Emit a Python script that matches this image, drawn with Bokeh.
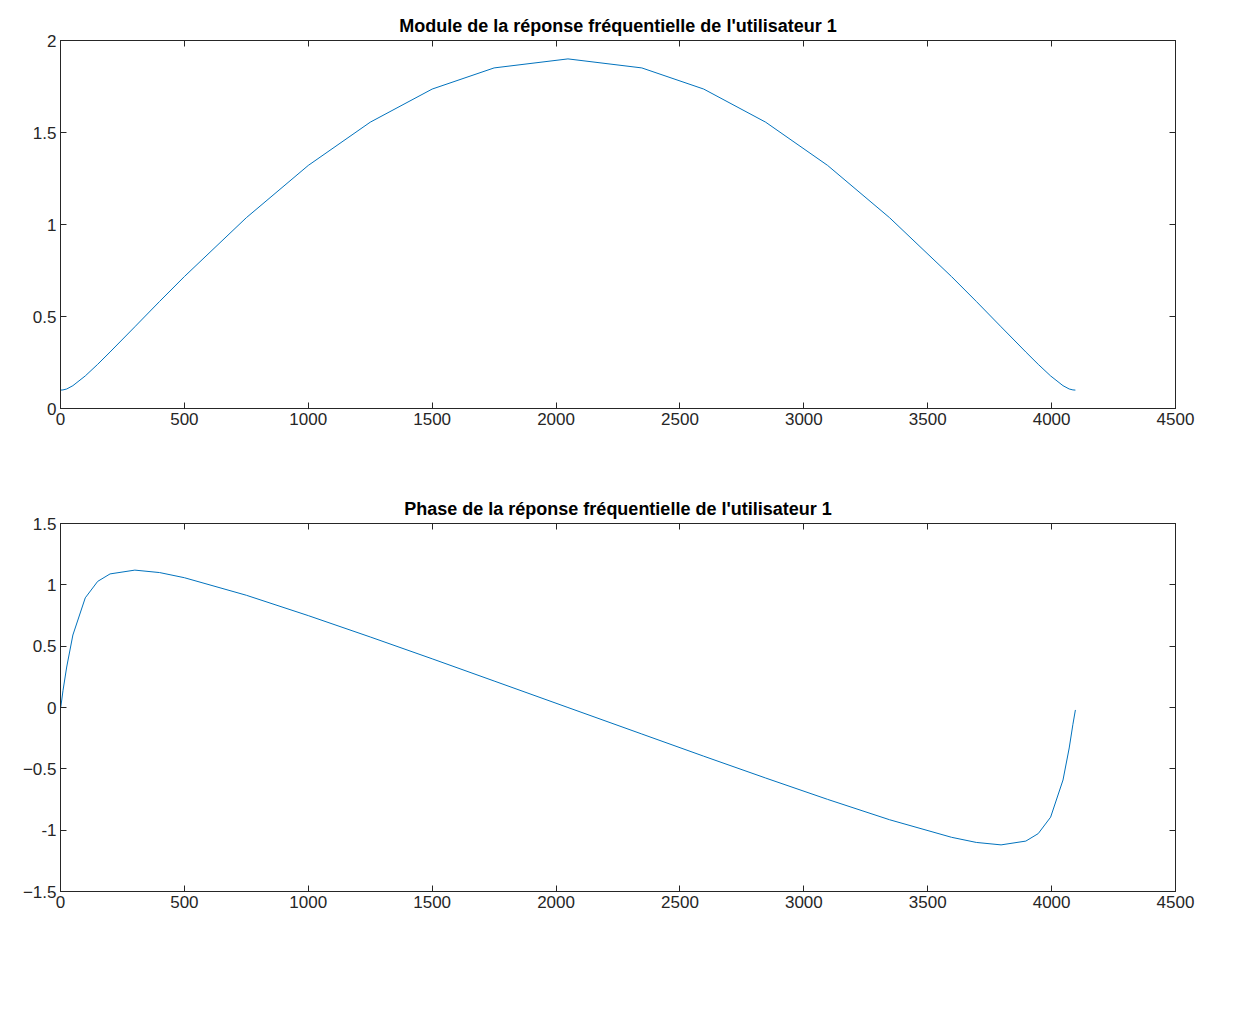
from bokeh.plotting import figure
from bokeh.layouts import column
from bokeh.models import LinearAxis, Range1d, FixedTicker
from bokeh.embed import file_html
from bokeh.resources import INLINE

# values
x = [1, 10, 25, 50, 100, 150, 200, 300, 400, 500, 750, 1000, 1250, 1500, 1750, 2048,
     2346, 2596, 2846, 3096, 3346, 3596, 3696, 3796, 3896, 3946, 3996, 4046, 4071, 4086, 4096]
module = [0.100, 0.101, 0.106, 0.124, 0.177, 0.240, 0.307, 0.444, 0.582, 0.717, 1.037, 1.321, 1.556, 1.736, 1.851, 1.900,
          1.851, 1.736, 1.556, 1.321, 1.037, 0.717, 0.582, 0.444, 0.307, 0.240, 0.177, 0.124, 0.106, 0.101, 0.100]
phase = [0.0, 0.137, 0.330, 0.591, 0.894, 1.028, 1.089, 1.120, 1.100, 1.058, 0.915, 0.749, 0.575, 0.397, 0.216, 0.0,
         -0.216, -0.397, -0.575, -0.749, -0.915, -1.058, -1.100, -1.120, -1.089, -1.028, -0.894, -0.591, -0.330, -0.137, -0.02]
xticks = [0, 500, 1000, 1500, 2000, 2500, 3000, 3500, 4000, 4500]

def style(ax, size):
    ax.major_tick_in = 6
    ax.major_tick_out = 0
    ax.minor_tick_in = 0
    ax.minor_tick_out = 0
    ax.axis_line_color = "#262626"
    ax.major_tick_line_color = "#262626"
    ax.major_label_text_color = "#262626"
    ax.major_label_text_font = "Arial"
    ax.major_label_text_font_size = size
    ax.major_label_standoff = 4

def make(title, y, yr, yticks, h, top):
    p = figure(width=1219, height=h, output_backend="svg", toolbar_location=None,
               x_range=Range1d(0, 4500), y_range=Range1d(*yr),
               frame_width=1115, frame_height=368,
               x_axis_type=None, y_axis_type=None,
               min_border_left=60, min_border_right=44, min_border_top=top)
    p.title.text = title
    p.title.align = "center"
    p.title.text_font = "Arial"
    p.title.text_font_size = "18px"
    p.title.text_font_style = "bold"
    p.title.text_color = "#000000"
    p.grid.visible = False
    p.outline_line_color = "#262626"
    p.line(x, y, line_color="#0072BD", line_width=1)
    xb = LinearAxis(ticker=FixedTicker(ticks=xticks))
    yl = LinearAxis(ticker=FixedTicker(ticks=yticks))
    xt = LinearAxis(ticker=FixedTicker(ticks=xticks), major_label_overrides={t: "" for t in xticks})
    yr_ = LinearAxis(ticker=FixedTicker(ticks=yticks), major_label_overrides={t: "" for t in yticks})
    for a in (xb, yl):
        style(a, "17px")
    for a in (xt, yr_):
        style(a, "1px")
        a.major_label_standoff = 0
    p.add_layout(xb, "below")
    p.add_layout(yl, "left")
    p.add_layout(xt, "above")
    p.add_layout(yr_, "right")
    return p, yl

p1, y1 = make("Module de la réponse fréquentielle de l'utilisateur 1", module, (0, 2),
              [0, 0.5, 1, 1.5, 2], 510, 40)
p2, y2 = make("Phase de la réponse fréquentielle de l'utilisateur 1", phase, (-1.5, 1.5),
              [-1.5, -1, -0.5, 0, 0.5, 1, 1.5], 480, 40)
y1.major_label_overrides = {0: "0", 1: "1", 2: "2"}
y2.major_label_overrides = {0: "0", 1: "1", -1: "-1"}
p1.min_border_bottom = 75
p = column(p1, p2, spacing=0)
open("out.html", "w").write(file_html(p, INLINE))
